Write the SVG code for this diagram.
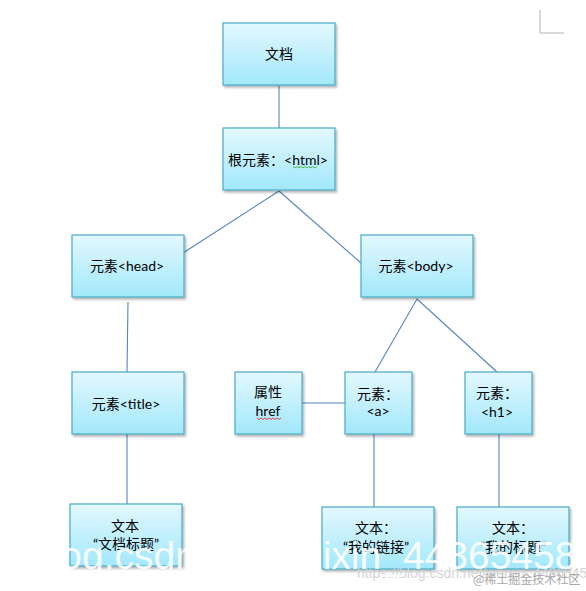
<svg xmlns="http://www.w3.org/2000/svg" width="586" height="591" viewBox="0 0 586 591">
  <defs>
    <linearGradient id="fill" x1="0" y1="0" x2="0" y2="1">
      <stop offset="0" stop-color="#e3f8fe"/>
      <stop offset="1" stop-color="#a2e8fb"/>
    </linearGradient>
    <filter id="shadow" x="-10%" y="-10%" width="125%" height="130%">
      <feDropShadow dx="1.5" dy="2" stdDeviation="1.2" flood-color="#000" flood-opacity="0.3"/>
    </filter>
  </defs>
  <style>
    .box { fill: url(#fill); stroke: #4aabc5; stroke-width: 1.2; filter: url(#shadow); }
    .t { font-family: "Lato", "Noto Sans CJK SC", sans-serif; font-size: 14px; fill: #000; }
    .c { text-anchor: middle; }
    .conn line { stroke: #5584be; stroke-width: 1.1; }
    .wavy { fill: none; stroke-width: 0.9; }
  </style>
  <rect width="586" height="591" fill="#fff"/>
  <polyline points="540,10 540,33 564,33" fill="none" stroke="#b4b4b4" stroke-width="1"/>

  <g id="connectors" class="conn">
    <line x1="279" y1="86" x2="279" y2="128"/>
    <line x1="279" y1="191" x2="183" y2="253"/>
    <line x1="279" y1="191" x2="361" y2="263"/>
    <line x1="128" y1="302" x2="127" y2="372"/>
    <line x1="127" y1="434" x2="127" y2="504"/>
    <line x1="417" y1="299" x2="375" y2="372"/>
    <line x1="417" y1="299" x2="497" y2="372"/>
    <line x1="302" y1="403" x2="345" y2="403"/>
    <line x1="374" y1="434" x2="374" y2="507"/>
    <line x1="499" y1="434" x2="499" y2="507"/>
  </g>

  <g id="doc">
    <rect class="box" x="223" y="23" width="112" height="62"/>
    <text class="t c" x="279" y="59">文档</text>
  </g>
  <g id="html">
    <rect class="box" x="223" y="128" width="112" height="62"/>
    <text class="t c" x="278" y="165">根元素：&lt;html&gt;</text>
    <polyline class="wavy" stroke="#3fae3f" points="293,166.5 295,168 297,166.5 299,168 301,166.5 303,168 305,166.5 307,168 309,166.5 311,168 313,166.5 315,168 317,166.5"/>
  </g>
  <g id="head">
    <rect class="box" x="72" y="235" width="112" height="62"/>
    <text class="t c" x="127" y="271">元素&lt;head&gt;</text>
  </g>
  <g id="body">
    <rect class="box" x="361" y="235" width="112" height="62"/>
    <text class="t c" x="416" y="271">元素&lt;body&gt;</text>
  </g>
  <g id="title">
    <rect class="box" x="72" y="372" width="112" height="62"/>
    <text class="t c" x="126" y="409">元素&lt;title&gt;</text>
  </g>
  <g id="href">
    <rect class="box" x="235" y="372" width="67" height="62"/>
    <text class="t c" x="268" y="397">属性</text>
    <text class="t c" x="268" y="416">href</text>
    <polyline class="wavy" stroke="#e03030" points="257,418 259,419.5 261,418 263,419.5 265,418 267,419.5 269,418 271,419.5 273,418 275,419.5 277,418 279,419.5 281,418"/>
  </g>
  <g id="a">
    <rect class="box" x="345" y="372" width="67" height="62"/>
    <text class="t" x="357" y="399">元素：</text>
    <text class="t c" x="378" y="416">&lt;a&gt;</text>
  </g>
  <g id="h1">
    <rect class="box" x="465" y="372" width="67" height="62"/>
    <text class="t" x="476" y="398">元素：</text>
    <text class="t c" x="497" y="417">&lt;h1&gt;</text>
  </g>
  <g id="text-title">
    <rect class="box" x="70" y="504" width="112" height="62"/>
    <text class="t c" x="125" y="531">文本</text>
    <text class="t c" x="126" y="549">“文档标题”</text>
  </g>
  <g id="text-a">
    <rect class="box" x="322" y="507" width="112" height="62"/>
    <text class="t" x="355" y="533">文本：</text>
    <text class="t c" x="376" y="552">“我的链接”</text>
  </g>
  <g id="text-h1">
    <rect class="box" x="457" y="507" width="112" height="62"/>
    <text class="t" x="492" y="533">文本：</text>
    <text class="t c" x="513" y="552">“我的标题”</text>
  </g>

  <text x="357" y="578" font-family="Liberation Sans, sans-serif" font-size="14" fill="#d4d4d4">https://blog.csdn.net/weixin_44365458</text>
  <text x="30" y="569" font-family="Liberation Sans, sans-serif" font-size="39" fill="#ffffff" fill-opacity="0.92">blog.csdn.net/weixin_44365458</text>
  <text x="473" y="584" font-family="Noto Sans CJK SC, sans-serif" font-size="12" fill="#a8a8a8">@稀土掘金技术社区</text>
</svg>
